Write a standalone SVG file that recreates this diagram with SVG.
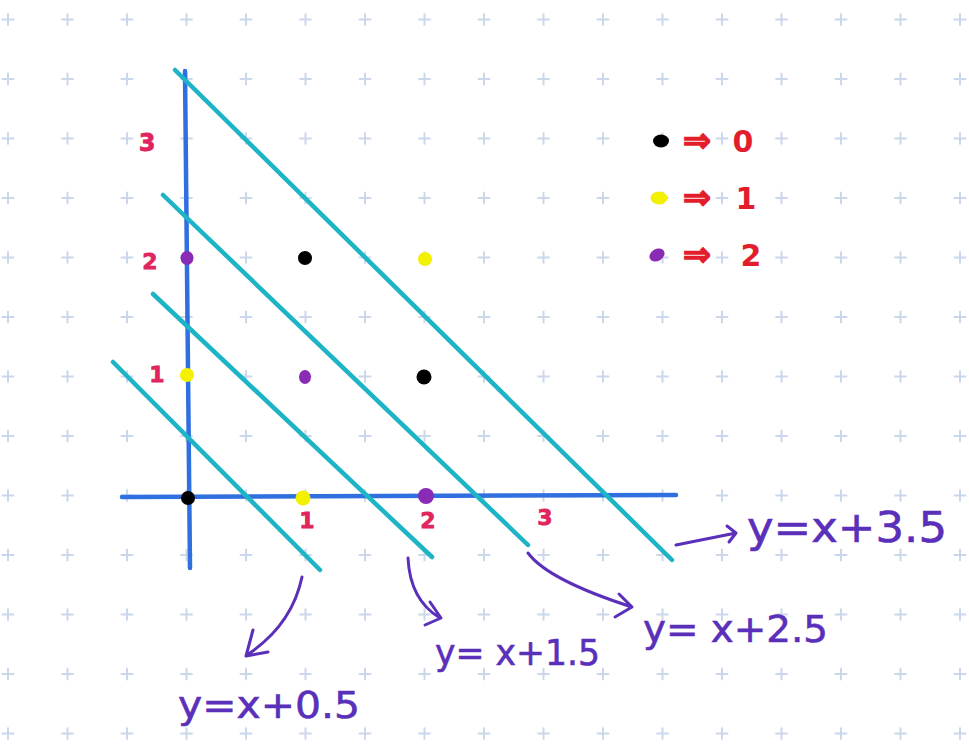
<svg xmlns="http://www.w3.org/2000/svg" width="969" height="746" viewBox="0 0 969 746">
<defs>
<pattern id="grid" patternUnits="userSpaceOnUse" x="-21.75" y="-10.25" width="59.5" height="59.5">
<path d="M23.5,29.75 H36 M29.75,23.5 V36" stroke="#cbd7ea" stroke-width="2" fill="none"/>
</pattern>
<style>
.axis{stroke:#2f6fe0;stroke-width:4.5;stroke-linecap:round;fill:none}
.cyan{stroke:#1db4c6;stroke-width:4.5;stroke-linecap:round;fill:none}
.ann{stroke:#5a2fb9;stroke-width:3;stroke-linecap:round;stroke-linejoin:round;fill:none}
.num{font-family:"DejaVu Sans","Liberation Sans",sans-serif;font-weight:bold;fill:#e0245e;stroke:#e0245e;stroke-width:0.8;text-anchor:middle;dominant-baseline:central}
.leg{font-family:"DejaVu Sans","Liberation Sans",sans-serif;font-weight:bold;fill:#e31e2c;text-anchor:middle;dominant-baseline:central}
.arr{font-family:"DejaVu Sans","Liberation Sans",sans-serif;font-weight:bold;fill:#e31e2c;stroke:#e31e2c;stroke-width:1.2;text-anchor:middle;dominant-baseline:central}
.lbl{font-family:"DejaVu Sans","Liberation Sans",sans-serif;fill:#5a2fb9;stroke:#5a2fb9;stroke-width:0.6}
</style>
</defs>
<rect width="969" height="746" fill="#ffffff"/>
<rect id="grid-bg" width="969" height="746" fill="url(#grid)"/>

<g id="axes">
<path class="axis" d="M185,71 L190,568"/>
<path class="axis" d="M122,497 L676,495"/>
</g>

<g id="connectors">
<path class="cyan" d="M113,362 L320,570"/>
<path class="cyan" d="M153,294 L432,557"/>
<path class="cyan" d="M163,195 L528,545"/>
<path class="cyan" d="M175,70 L672,560"/>
</g>

<g id="points">
<circle cx="188" cy="498" r="7" fill="#000"/>
<circle cx="303" cy="498" r="7.5" fill="#f3f000"/>
<circle cx="426" cy="496" r="8" fill="#8a2bb5"/>
<circle cx="187" cy="375" r="7" fill="#f3f000"/>
<ellipse cx="305" cy="377" rx="6" ry="7" fill="#8a2bb5"/>
<circle cx="424" cy="377" r="7.5" fill="#000"/>
<ellipse cx="187" cy="258" rx="6.5" ry="7" fill="#8a2bb5"/>
<circle cx="305" cy="258" r="7" fill="#000"/>
<circle cx="425" cy="259" r="7" fill="#f3f000"/>
</g>

<g id="axis-labels">
<text class="num" x="147" y="143" font-size="24">3</text>
<text class="num" x="150" y="261" font-size="22">2</text>
<text class="num" x="157" y="374" font-size="22">1</text>
<text class="num" x="307" y="520" font-size="22">1</text>
<text class="num" x="428" y="520" font-size="22">2</text>
<text class="num" x="545" y="517" font-size="22">3</text>
</g>

<g id="legend">
<g id="legend-0">
<ellipse cx="661" cy="141" rx="8" ry="6.5" fill="#000"/>
<text class="arr" x="697" y="140" font-size="34">⇒</text>
<text class="leg" x="743" y="141" font-size="30">0</text>
</g>
<g id="legend-1">
<ellipse cx="659" cy="198" rx="8.5" ry="6.5" fill="#f3f000"/>
<text class="arr" x="697" y="197" font-size="34">⇒</text>
<text class="leg" x="746" y="198" font-size="30">1</text>
</g>
<g id="legend-2">
<ellipse cx="657" cy="255" rx="8" ry="6" fill="#8a2bb5" transform="rotate(-30 657 255)"/>
<text class="arr" x="697" y="254" font-size="34">⇒</text>
<text class="leg" x="751" y="255" font-size="30">2</text>
</g>
</g>

<g id="annotations">
<g id="ann-05">
<path class="ann" d="M302,577 Q292,625 247,655 M253,630 L246,656 L268,652"/>
<text class="lbl" x="178" y="718" font-size="38" textLength="182" lengthAdjust="spacingAndGlyphs">y=x+0.5</text>
</g>
<g id="ann-15">
<path class="ann" d="M408,558 Q410,600 440,618 M430,602 L441,618 L425,625"/>
<text class="lbl" x="435" y="665" font-size="36" textLength="165" lengthAdjust="spacingAndGlyphs">y= x+1.5</text>
</g>
<g id="ann-25">
<path class="ann" d="M528,553 Q548,580 632,607 M619,594 L632,607 L615,617"/>
<text class="lbl" x="643" y="642" font-size="38" textLength="185" lengthAdjust="spacingAndGlyphs">y= x+2.5</text>
</g>
<g id="ann-35">
<path class="ann" d="M676,545 L736,533 M727,526 L736,533 L729,542"/>
<text class="lbl" x="747" y="542" font-size="42" textLength="200" lengthAdjust="spacingAndGlyphs">y=x+3.5</text>
</g>
</g>
</svg>
